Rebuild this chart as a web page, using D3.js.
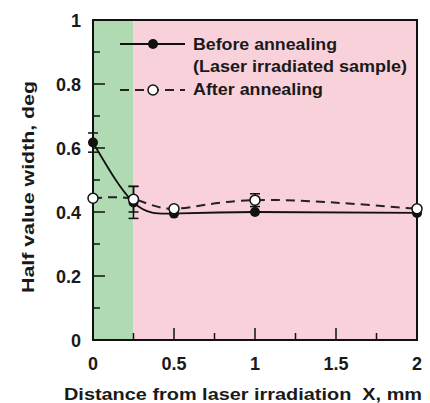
<!DOCTYPE html>
<html>
<head>
<meta charset="utf-8">
<script src="https://cdn.jsdelivr.net/npm/d3@7"></script>
<style>
  body { margin: 0; background: #fff; }
  text { font-family: "Liberation Sans", Arial, sans-serif; font-weight: bold; fill: #1a1a1a; }
</style>
</head>
<body>
<script>
var xVals = [0, 0.25, 0.5, 1, 2];
var beforeVals = [0.617, 0.43, 0.395, 0.40, 0.397];
var beforeErr = [0.03, 0.05, 0, 0, 0];
var afterVals = [0.443, 0.44, 0.41, 0.437, 0.41];
var afterErr = [0, 0.04, 0, 0.02, 0];
var xTicks = [0, 0.5, 1, 1.5, 2];
var xTickLabels = ["0", "0.5", "1", "1.5", "2"];
var yTicks = [0, 0.2, 0.4, 0.6, 0.8, 1];
var yTickLabels = ["0", "0.2", "0.4", "0.6", "0.8", "1"];
var zoneEdge = 0.25;

var W = 430, H = 403;
var svg = d3.select("body").append("svg").attr("width", W).attr("height", H);

var x = d3.scaleLinear().domain([0, 2]).range([93, 417]);
var y = d3.scaleLinear().domain([0, 1]).range([340, 20]);

// background zones
svg.append("rect").attr("x", x(0)).attr("y", y(1))
  .attr("width", x(zoneEdge) - x(0)).attr("height", y(0) - y(1))
  .attr("fill", "#b0dab2");
svg.append("rect").attr("x", x(zoneEdge)).attr("y", y(1))
  .attr("width", x(2) - x(zoneEdge)).attr("height", y(0) - y(1))
  .attr("fill", "#f8d1db");

// ticks (inside)
var g = svg.append("g").attr("stroke", "#111").attr("stroke-width", 1.5);
d3.range(0.1, 1, 0.1).forEach(function(v){
  var major = Math.abs(Math.round(v*10) % 2) == 0;
  g.append("line").attr("x1", x(0)).attr("x2", x(0) + (major ? 12 : 7))
    .attr("y1", y(v)).attr("y2", y(v));
});
d3.range(0.25, 2, 0.25).forEach(function(v){
  var major = Math.abs((v*4) % 2) == 0;
  g.append("line").attr("x1", x(v)).attr("x2", x(v))
    .attr("y1", y(0)).attr("y2", y(0) - (major ? 12 : 7));
});

// frame
svg.append("rect").attr("x", x(0)).attr("y", y(1))
  .attr("width", x(2) - x(0)).attr("height", y(0) - y(1))
  .attr("fill", "none").attr("stroke", "#111").attr("stroke-width", 2);

// tick labels
svg.selectAll(".ylab").data(yTicks).enter().append("text")
  .attr("x", x(0) - 12).attr("y", function(d){ return y(d) + 7; })
  .attr("text-anchor", "end").attr("font-size", 18)
  .text(function(d, i){ return yTickLabels[i]; });
svg.selectAll(".xlab").data(xTicks).enter().append("text")
  .attr("x", function(d){ return x(d); }).attr("y", 370)
  .attr("text-anchor", "middle").attr("font-size", 18)
  .text(function(d, i){ return xTickLabels[i]; });

svg.append("text").attr("x", 64).attr("y", 400)
  .attr("font-size", 17).attr("textLength", 358).attr("lengthAdjust", "spacingAndGlyphs")
  .text("Distance from laser irradiation\u00a0\u00a0X, mm");
svg.append("text").attr("transform", "translate(34,293) rotate(-90)")
  .attr("font-size", 17).attr("textLength", 212).attr("lengthAdjust", "spacingAndGlyphs")
  .text("Half value width, deg");

var before = xVals.map(function(d, i){ return {x: d, y: beforeVals[i], e: beforeErr[i]}; });
var after = xVals.map(function(d, i){ return {x: d, y: afterVals[i], e: afterErr[i]}; });

var line = d3.line().curve(d3.curveNatural)
  .x(function(d){ return x(d.x); }).y(function(d){ return y(d.y); });

svg.append("path").datum(after).attr("d", line).attr("fill", "none")
  .attr("stroke", "#222").attr("stroke-width", 2).attr("stroke-dasharray", "9,6");
svg.append("path").datum(before).attr("d", line).attr("fill", "none")
  .attr("stroke", "#111").attr("stroke-width", 1.8);

function errBars(data){
  data.filter(function(d){ return d.e > 0; }).forEach(function(d){
    var eg = svg.append("g").attr("stroke", "#111").attr("stroke-width", 1.5);
    eg.append("line").attr("x1", x(d.x)).attr("x2", x(d.x)).attr("y1", y(d.y - d.e)).attr("y2", y(d.y + d.e));
    eg.append("line").attr("x1", x(d.x) - 5).attr("x2", x(d.x) + 5).attr("y1", y(d.y - d.e)).attr("y2", y(d.y - d.e));
    eg.append("line").attr("x1", x(d.x) - 5).attr("x2", x(d.x) + 5).attr("y1", y(d.y + d.e)).attr("y2", y(d.y + d.e));
  });
}
errBars(before);
errBars(after);

svg.selectAll(".bm").data(before).enter().append("circle")
  .attr("cx", function(d){ return x(d.x); }).attr("cy", function(d){ return y(d.y); })
  .attr("r", 5).attr("fill", "#111");
svg.selectAll(".am").data(after).enter().append("circle")
  .attr("cx", function(d){ return x(d.x); }).attr("cy", function(d){ return y(d.y); })
  .attr("r", 5).attr("fill", "#fff").attr("stroke", "#111").attr("stroke-width", 1.5);

// legend
var lg = svg.append("g");
lg.append("line").attr("x1", 120).attr("x2", 185).attr("y1", 44).attr("y2", 44)
  .attr("stroke", "#111").attr("stroke-width", 1.8);
lg.append("circle").attr("cx", 153).attr("cy", 44).attr("r", 5).attr("fill", "#111");
lg.append("line").attr("x1", 120).attr("x2", 185).attr("y1", 90).attr("y2", 90)
  .attr("stroke", "#222").attr("stroke-width", 2).attr("stroke-dasharray", "9,6");
lg.append("circle").attr("cx", 153).attr("cy", 90).attr("r", 5).attr("fill", "#fff")
  .attr("stroke", "#111").attr("stroke-width", 1.5);
lg.append("text").attr("x", 193).attr("y", 50).attr("font-size", 16)
  .attr("textLength", 144).attr("lengthAdjust", "spacingAndGlyphs").text("Before annealing");
lg.append("text").attr("x", 193).attr("y", 72).attr("font-size", 16)
  .attr("textLength", 214).attr("lengthAdjust", "spacingAndGlyphs").text("(Laser irradiated sample)");
lg.append("text").attr("x", 193).attr("y", 95).attr("font-size", 16)
  .attr("textLength", 130).attr("lengthAdjust", "spacingAndGlyphs").text("After annealing");
</script>
</body>
</html>
